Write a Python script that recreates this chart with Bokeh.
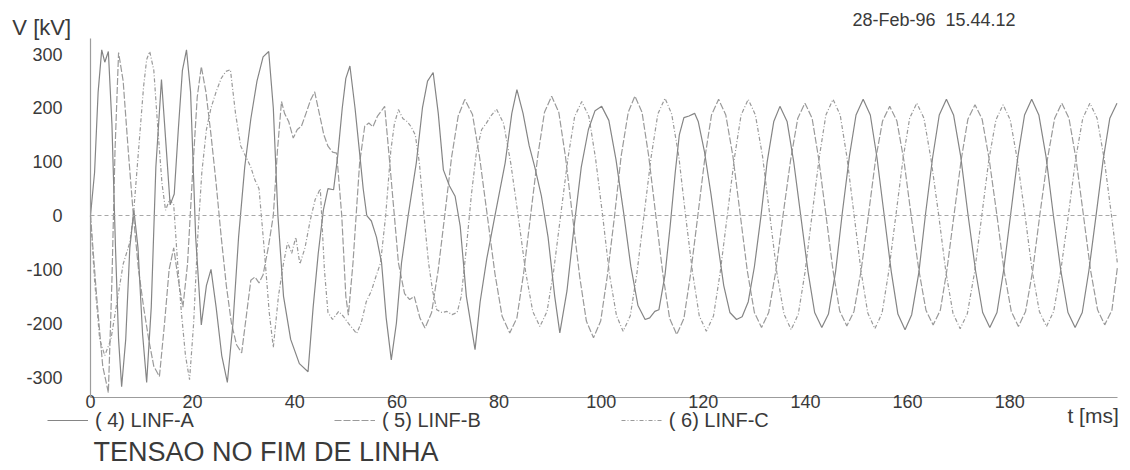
from bokeh.plotting import figure
from bokeh.models import Range1d, FixedTicker, Label, Legend, LegendItem, LinearAxis
from bokeh.embed import file_html
from bokeh.resources import INLINE

# ---- data: (t [ms], V [kV]) ----
LINF_A = [
    (0.0, 0), (0.8, 80), (1.5, 230), (2.2, 308), (2.8, 285), (3.5, 305), (4.2, 170), (4.9, -60),
    (5.5, -230), (6.1, -318), (6.9, -230), (7.7, -60), (8.5, 10), (9.3, -60), (10.2, -220),
    (11.0, -310), (11.9, -170), (12.8, 90), (13.9, 253), (14.8, 130), (15.6, 20), (16.4, 40),
    (17.2, 160), (18.0, 270), (18.8, 308), (19.6, 230), (20.6, -40), (21.7, -203), (22.7, -130),
    (23.6, -100), (24.6, -170), (25.7, -260), (26.8, -310), (27.9, -200), (29.0, -40), (30.2, 90),
    (31.4, 180), (32.6, 250), (33.8, 295), (34.9, 305), (35.8, 200), (36.7, 0), (37.8, -150),
    (39.2, -230), (40.9, -275), (42.6, -290), (43.6, -170), (44.6, -70), (45.6, 10), (46.5, 50),
    (47.6, 48), (48.4, 110), (49.3, 200), (50.0, 255), (50.8, 278), (51.8, 200), (52.7, 116),
    (53.4, 50), (54.1, 0), (55.0, -10), (56.0, -40), (57.0, -88), (57.9, -190), (58.9, -268),
    (59.9, -200), (60.9, -88), (62.2, 0), (63.8, 98), (65.0, 200), (66.0, 250), (67.1, 266),
    (68.1, 190), (69.1, 85), (70.3, 55), (71.4, 36), (72.4, -20), (73.6, -150), (75.3, -249),
    (76.3, -160), (77.6, -80), (79.2, 0), (81.2, 98), (82.5, 190), (83.5, 234), (84.7, 190),
    (85.9, 130), (87.0, 90), (88.3, 36), (89.6, -40), (90.9, -150), (91.9, -218), (93.3, -140),
    (94.7, -20), (96.1, 90), (97.5, 160), (98.8, 195), (100.1, 203), (101.5, 177), (102.9, 104),
    (104.4, 5), (105.8, -94), (107.2, -167), (108.6, -193), (109.5, -190), (110.5, -178),
    (111.3, -175), (112.5, -110), (113.5, -20), (114.5, 80), (115.3, 150), (116.2, 182),
    (117.2, 185), (118.3, 190), (119.0, 175), (120.2, 120), (121.5, 40), (122.8, -50),
    (124.0, -130), (125.2, -180), (126.5, -193), (127.6, -188), (128.8, -160), (130.0, -95),
    (131.3, 0), (132.5, 100), (133.8, 175), (135.0, 203), (136.4, 175), (137.7, 100), (139.1, -2),
    (140.5, -104), (141.8, -180), (143.2, -208), (144.5, -183), (145.9, -104), (147.2, 4),
    (148.6, 110), (149.9, 187), (151.3, 216), (152.7, 187), (154.0, 108), (155.4, 2), (156.8, -104),
    (158.1, -183), (159.5, -212), (160.8, -184), (162.2, -106), (163.5, 2), (164.9, 108),
    (166.2, 187), (167.6, 216), (169.0, 187), (170.4, 110), (171.8, 4), (173.3, -102),
    (174.7, -180), (176.1, -208), (177.5, -180), (178.8, -102), (180.2, 4), (181.6, 110),
    (182.9, 187), (184.3, 216), (185.7, 187), (187.1, 110), (188.5, 4), (190.0, -102),
    (191.4, -180), (192.8, -208), (194.2, -180), (195.5, -102), (196.9, 0), (198.3, 104),
    (199.6, 181), (201.0, 209),
]

LINF_B = [
    (0.0, 0), (1.2, -150), (2.4, -280), (3.5, -329), (4.2, -120), (4.8, 120), (5.5, 303),
    (6.4, 250), (7.4, 120), (8.4, 0), (9.4, -100), (10.4, -170), (11.4, -230), (12.4, -280),
    (13.5, -299), (14.5, -200), (15.4, -100), (16.3, -60), (17.2, -120), (18.1, -170), (19.0, -90),
    (20.0, 80), (20.9, 220), (21.7, 277), (22.6, 230), (23.6, 150), (24.6, 60), (25.6, -40),
    (26.6, -130), (27.6, -200), (28.6, -240), (29.6, -255), (30.6, -180), (31.4, -120),
    (32.2, -114), (33.0, -125), (33.8, -110), (34.8, -60), (35.8, 0), (36.6, 120), (37.4, 212),
    (38.0, 190), (38.8, 175), (39.7, 144), (40.5, 160), (41.3, 166), (42.2, 190), (43.1, 215),
    (43.9, 230), (44.8, 190), (45.7, 150), (46.5, 129), (47.4, 118), (48.2, 116), (49.2, 0),
    (50.0, -150), (50.5, -185), (51.4, -88), (52.7, 98), (53.7, 166), (54.5, 172), (55.3, 165),
    (56.2, 185), (57.0, 195), (57.6, 203), (58.6, 98), (59.5, 0), (60.3, -88), (61.5, -145),
    (62.5, -156), (63.4, -150), (64.5, -190), (65.5, -209), (66.8, -180), (68.1, -100), (69.4, 3),
    (70.7, 108), (72.0, 185), (73.3, 216), (74.8, 188), (76.2, 108), (77.7, 0), (79.2, -108),
    (80.6, -187), (82.1, -218), (83.5, -190), (84.8, -108), (86.2, 2), (87.6, 112), (88.9, 192),
    (90.3, 222), (91.7, 192), (93.0, 110), (94.4, -2), (95.8, -114), (97.1, -196), (98.5, -227),
    (99.9, -196), (101.2, -112), (102.6, -2), (103.9, 110), (105.3, 192), (106.6, 222),
    (108.0, 192), (109.3, 111), (110.7, 0), (112.1, -110), (113.4, -191), (114.8, -221),
    (116.2, -191), (117.5, -109), (118.9, -2), (120.3, 107), (121.6, 187), (123.0, 216),
    (124.4, 187), (125.8, 110), (127.2, 4), (128.6, -102), (130.0, -180), (131.4, -208),
    (132.8, -180), (134.2, -103), (135.6, 0), (137.1, 104), (138.5, 181), (139.9, 209),
    (141.3, 181), (142.6, 105), (144.0, 2), (145.4, -102), (146.7, -177), (148.1, -205),
    (149.5, -178), (150.9, -102), (152.3, -1), (153.7, 102), (155.1, 176), (156.5, 203),
    (157.9, 176), (159.3, 101), (160.7, 0), (162.2, -101), (163.6, -176), (165.0, -203),
    (166.4, -176), (167.7, -101), (169.1, 2), (170.5, 104), (171.8, 179), (173.2, 206),
    (174.6, 179), (176.0, 103), (177.5, 0), (178.9, -103), (180.3, -178), (181.7, -206),
    (183.1, -178), (184.5, -102), (185.9, 2), (187.4, 106), (188.8, 181), (190.2, 209),
    (191.6, 181), (193.0, 104), (194.4, 3), (195.8, -100), (197.2, -175), (198.6, -203),
    (200.0, -176), (201.1, -95),
]

LINF_C = [
    (0.0, 0), (0.8, -120), (1.8, -230), (2.8, -260), (4.0, -230), (5.2, -160), (6.4, -90),
    (7.7, -50), (8.4, 0), (9.4, 120), (10.4, 240), (11.0, 290), (11.6, 305), (12.4, 270),
    (13.2, 160), (14.0, 60), (14.7, 10), (15.5, 30), (16.3, 20), (17.0, -80), (17.8, -180),
    (18.6, -260), (19.4, -305), (20.2, -200), (21.0, -40), (21.8, 80), (22.7, 160), (23.6, 200),
    (24.6, 230), (25.6, 255), (26.5, 268), (27.4, 271), (28.4, 190), (29.4, 130), (30.4, 110),
    (31.4, 90), (32.2, 66), (33.0, 50), (34.0, -60), (35.0, -180), (35.8, -245), (36.8, -150),
    (37.8, -88), (38.6, -50), (39.4, -70), (40.2, -40), (41.0, -90), (42.0, -60), (43.0, -10),
    (44.0, 30), (45.0, 50), (45.8, -100), (46.5, -180), (47.4, -193), (48.6, -178), (49.5, -187),
    (50.5, -200), (52.1, -219), (53.0, -200), (54.0, -160), (55.0, -140), (56.0, -110),
    (56.8, -88), (57.8, 0), (58.8, 120), (59.5, 170), (60.3, 197), (61.2, 180), (62.0, 175),
    (62.8, 165), (63.6, 150), (64.4, 98), (65.3, 0), (66.2, -88), (67.0, -140), (67.8, -175),
    (68.8, -180), (69.8, -178), (70.8, -184), (71.8, -180), (72.6, -150), (73.6, -60), (74.6, 40),
    (75.6, 120), (76.6, 160), (77.4, 170), (78.4, 185), (79.5, 198), (80.9, 171), (82.3, 97),
    (83.8, -4), (85.2, -104), (86.6, -178), (88.0, -206), (89.4, -178), (90.7, -102), (92.1, 3),
    (93.5, 107), (94.8, 184), (96.2, 212), (97.6, 184), (98.9, 106), (100.3, -1), (101.6, -108),
    (103.0, -186), (104.3, -215), (105.7, -186), (107.0, -107), (108.4, 2), (109.8, 110),
    (111.1, 189), (112.5, 218), (113.8, 189), (115.2, 110), (116.5, 2), (117.9, -106),
    (119.2, -186), (120.6, -215), (122.0, -186), (123.3, -106), (124.7, 1), (126.1, 108),
    (127.4, 187), (128.8, 216), (130.2, 187), (131.6, 110), (133.0, 2), (134.4, -106),
    (135.8, -183), (137.2, -212), (138.6, -183), (139.9, -106), (141.3, 2), (142.7, 108),
    (144.0, 187), (145.4, 216), (146.8, 187), (148.1, 110), (149.5, 3), (150.9, -104),
    (152.2, -181), (153.6, -210), (155.0, -181), (156.3, -104), (157.7, 0), (159.1, 105),
    (160.4, 181), (161.8, 209), (163.2, 181), (164.6, 104), (166.1, 0), (167.5, -105),
    (168.9, -182), (170.3, -210), (171.7, -182), (173.1, -106), (174.5, -2), (175.9, 103),
    (177.3, 178), (178.7, 206), (180.1, 178), (181.5, 103), (183.0, 0), (184.4, -103),
    (185.8, -178), (187.2, -206), (188.6, -178), (190.0, -102), (191.5, 2), (192.9, 105),
    (194.3, 181), (195.7, 209), (197.1, 181), (198.5, 105), (199.9, 2), (201.1, -90),
]

series_names = ["( 4) LINF-A", "( 5) LINF-B", "( 6) LINF-C"]
x_ticks = [0, 20, 40, 60, 80, 100, 120, 140, 160, 180]
y_ticks = [-300, -200, -100, 0, 100, 200, 300]
t_extent = (0, 201.1)
v_extent = (-338, 329)
title_text = "TENSAO NO FIM DE LINHA"
date_text = "28-Feb-96\u00a0\u00a015.44.12"
y_title = "V [kV]"
x_title = "t [ms]"

FONT = "Liberation Sans"
TXT = "#3a3a3a"
AXC = "#9c9c9c"

# whole canvas is the frame; axes are pinned inside it with fixed_location
p = figure(width=1122, height=470, output_backend="svg", toolbar_location=None,
           x_range=Range1d(-17.62, 202.08), y_range=Range1d(-473.6, 399.7),
           min_border_left=0, min_border_right=0, min_border_top=0, min_border_bottom=0)
p.outline_line_color = None
p.grid.visible = False
p.background_fill_color = "white"
p.border_fill_color = "white"

xa = p.xaxis[0]
ya = p.yaxis[0]
xa.fixed_location = v_extent[0]
xa.bounds = t_extent
ya.fixed_location = 0
ya.bounds = v_extent
for ax in (xa, ya):
    ax.major_tick_out = 0
    ax.major_tick_in = 0
    ax.minor_tick_out = 0
    ax.minor_tick_in = 0
    ax.axis_line_color = AXC
    ax.axis_line_width = 1.2
    ax.major_label_text_font = FONT
    ax.major_label_text_font_size = "18px"
    ax.major_label_text_color = TXT

xa.ticker = FixedTicker(ticks=x_ticks)
xa.major_label_standoff = -3
ya.ticker = FixedTicker(ticks=y_ticks)
ya.major_label_standoff = 28
ya.major_label_overrides = {float(t): str(t) for t in y_ticks}

# zero reference line (an axis without ticks, pinned at 0)
zero_ax = LinearAxis(fixed_location=0, bounds=t_extent, ticker=FixedTicker(ticks=[]),
                     axis_line_color="#a8a8a8", axis_line_dash="4 3", axis_line_width=1,
                     major_tick_out=0, minor_tick_out=0, major_label_text_font_size="0px")
p.add_layout(zero_ax, "below")

def unzip(pts):
    return [a for a, _ in pts], [b for _, b in pts]

ta, va = unzip(LINF_A)
tb, vb = unzip(LINF_B)
tc, vc = unzip(LINF_C)

rc = p.line(tc, vc, line_color="#9a9a9a", line_width=1.2, line_dash="4 2 1 2")
rb = p.line(tb, vb, line_color="#9a9a9a", line_width=1.2, line_dash="7 2")
ra = p.line(ta, va, line_color="#858585", line_width=1.2)

legend = Legend(items=[LegendItem(label=series_names[0], renderers=[ra]),
                       LegendItem(label=series_names[1], renderers=[rb]),
                       LegendItem(label=series_names[2], renderers=[rc])],
                orientation="horizontal", location=(47, 38.5),
                glyph_width=41, glyph_height=20, label_height=20, label_standoff=7,
                spacing=140, padding=0, margin=0, border_line_color=None,
                background_fill_alpha=0, label_text_font=FONT,
                label_text_font_size="20px", label_text_color=TXT)
p.add_layout(legend)

def lab(x, y, text, size):
    p.add_layout(Label(x=x, y=y, text=text, text_font=FONT, text_font_size=size,
                       text_color=TXT, text_baseline="middle", text_align="left"))

lab(-15.3, 350.4, y_title, "22px")
lab(149.2, 363.4, date_text, "18px")
lab(191.3, -371.4, x_title, "21px")
lab(0.6, -438.5, title_text, "27px")

open("out.html", "w").write(file_html(p, INLINE))
